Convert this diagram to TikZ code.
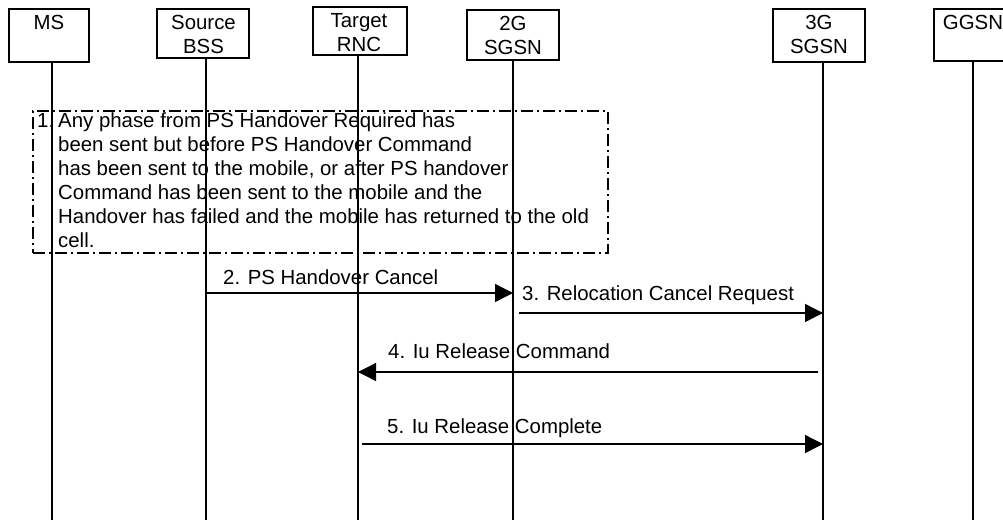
\documentclass[tikz,border=0pt]{standalone}
\usepackage{fontspec}
\setmainfont{Liberation Sans}
\usetikzlibrary{arrows.meta}
\begin{document}
\begin{tikzpicture}[x=1pt,y=-1pt,
  every node/.style={font=\fontsize{20.4}{24}\selectfont},
  hdr/.style={draw,line width=2pt,inner sep=0pt},
  hdrtxt/.style={anchor=north,align=center,inner sep=0pt},
  life/.style={line width=2pt},
  msg/.style={line width=1.3pt,-{Triangle[length=18pt,width=18pt]}},
  lbl/.style={anchor=base west,inner sep=0pt},
  notebox/.style={draw,line width=1.5pt,dash pattern=on 12pt off 4pt on 2pt off 4pt,inner sep=0pt}]
\useasboundingbox (0,0) rectangle (1003,520);

% header boxes
\node[hdr,minimum width=80pt,minimum height=53pt] (ms) at (49,35.5) {};
\node[hdr,minimum width=92pt,minimum height=49pt] (bss) at (203,33.5) {};
\node[hdr,minimum width=94pt,minimum height=48pt] (rnc) at (360,31) {};
\node[hdr,minimum width=92pt,minimum height=50pt] (sgsn2) at (513,35) {};
\node[hdr,minimum width=92pt,minimum height=53pt] (sgsn3) at (819,35.5) {};
\node[hdr,minimum width=78pt,minimum height=52pt] (ggsn) at (973,35) {};

\node[hdrtxt] (msT) at (49,12) {\strut MS};
\node[hdrtxt] (bssT) at (203.5,12) {\strut Source\\\strut BSS};
\node[hdrtxt] (rncT) at (359,10) {\strut Target\\\strut RNC};
\node[hdrtxt] (sgsn2T) at (513,13) {\strut 2G\\\strut SGSN};
\node[hdrtxt] (sgsn3T) at (819,12) {\strut 3G\\\strut SGSN};
\node[hdrtxt] (ggsnT) at (973,12) {\strut GGSN};

% lifelines
\coordinate (msE) at (52,520);
\coordinate (bssE) at (206,520);
\coordinate (rncE) at (358,520);
\coordinate (sgsn2E) at (513,520);
\coordinate (sgsn3E) at (823,520);
\coordinate (ggsnE) at (973,520);
\draw[life] (ms.south -| msE) -- (msE);
\draw[life] (bss.south -| bssE) -- (bssE);
\draw[life] (rnc.south -| rncE) -- (rncE);
\draw[life] (sgsn2.south -| sgsn2E) -- (sgsn2E);
\draw[life] (sgsn3.south -| sgsn3E) -- (sgsn3E);
\draw[life] (ggsn.south -| ggsnE) -- (ggsnE);

% note box
\node[notebox,minimum width=575pt,minimum height=142pt] (nb) at (320.5,182) {};
\node[anchor=north west,inner sep=0pt,align=left] (nbT) at (37,112.5)
 {\makebox[21pt][l]{1.}Any phase from PS Handover Required has\\
  \hspace*{21pt}been sent but before PS Handover Command\\
  \hspace*{21pt}has been sent to the mobile, or after PS handover\\
  \hspace*{21pt}Command has been sent to the mobile and the\\
  \hspace*{21pt}Handover has failed and the mobile has returned to the old\\
  \hspace*{21pt}cell.};

% messages
\coordinate (m2a) at (206,293);
\coordinate (m2b) at (513,293);
\coordinate (m3a) at (519,313);
\coordinate (m3b) at (823,313);
\coordinate (m4a) at (818,372);
\coordinate (m4b) at (358,372);
\coordinate (m5a) at (362,444);
\coordinate (m5b) at (823,444);

\draw[msg] (m2a) -- (m2b);
\draw[msg] (m3a) -- (m3b);
\draw[msg] (m4a) -- (m4b);
\draw[msg] (m5a) -- (m5b);

\node[lbl] (l2) at (223,284) {2. PS Handover Cancel};
\node[lbl] (l3) at (522,300) {3. Relocation Cancel Request};
\node[lbl] (l4) at (388,358) {4. Iu Release Command};
\node[lbl] (l5) at (387,433) {5. Iu Release Complete};
\end{tikzpicture}
\end{document}
